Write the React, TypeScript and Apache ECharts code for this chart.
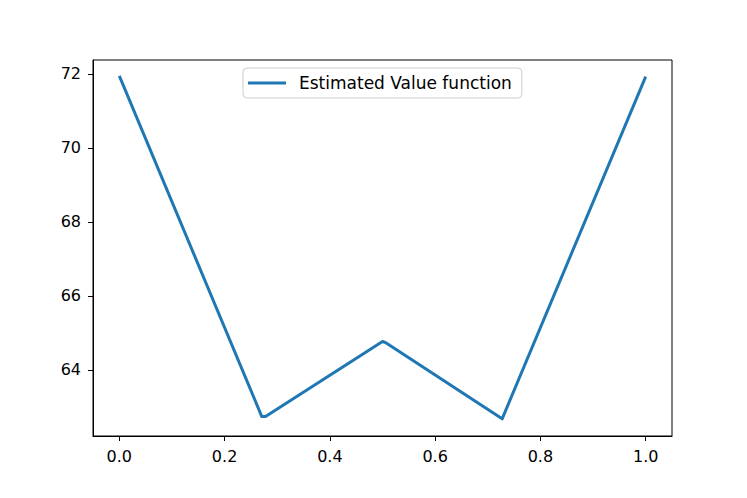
import React, { useEffect, useRef } from "react";
import * as echarts from "echarts";

const xValues = [0, 0.2707, 0.2778, 0.5, 0.507, 0.7273, 1.0];
const yValues = [71.95, 62.74, 62.74, 64.77, 64.73, 62.68, 71.93];
const xTicks = [0, 0.2, 0.4, 0.6, 0.8, 1.0];
const yTicks = [64, 66, 68, 70, 72];
const seriesName = "Estimated Value function";

const FONT = "DejaVu Sans";

export default function App() {
  const ref = useRef<HTMLDivElement>(null);
  useEffect(() => {
    if (!ref.current) return;
    const chart = echarts.init(ref.current, null, { renderer: "svg" });
    const data = xValues.map((x, i) => [x, yValues[i]]);
    chart.setOption({
      animation: false,
      backgroundColor: "#ffffff",
      grid: {
        left: 93,
        right: 75,
        top: 60,
        bottom: 62,
        show: true,
        borderColor: "#000",
        borderWidth: 1,
        backgroundColor: "transparent",
      },
      legend: {
        left: 243,
        top: 68,
        padding: [5, 10, 5, 5],
        borderColor: "#cccccc",
        borderWidth: 1,
        borderRadius: 4,
        backgroundColor: "#ffffff",
        itemWidth: 38,
        itemHeight: 3,
        icon: "rect",
        textStyle: {
          fontFamily: FONT,
          fontSize: 17,
          color: "#000",
          lineHeight: 20,
          padding: [0, 0, 0, 8],
        },
        data: [seriesName],
      },
      xAxis: {
        type: "value",
        min: -0.05,
        max: 1.05,
        splitLine: { show: false },
        axisLine: { show: true, onZero: false, lineStyle: { color: "#000", width: 1 } },
        axisTick: {
          show: true,
          length: 5,
          customValues: xTicks,
          lineStyle: { color: "#000", width: 1 },
        },
        axisLabel: {
          customValues: xTicks,
          fontFamily: FONT,
          fontSize: 16,
          color: "#000",
          margin: 12,
          formatter: (v: number) => v.toFixed(1),
        },
      },
      yAxis: {
        type: "value",
        min: 62.216,
        max: 72.378,
        splitLine: { show: false },
        axisLine: { show: true, onZero: false, lineStyle: { color: "#000", width: 1 } },
        axisTick: {
          show: true,
          length: 5,
          customValues: yTicks,
          lineStyle: { color: "#000", width: 1 },
        },
        axisLabel: {
          customValues: yTicks,
          fontFamily: FONT,
          fontSize: 16,
          color: "#000",
          margin: 12,
          formatter: (v: number) => String(Math.round(v)),
        },
      },
      series: [
        {
          name: seriesName,
          type: "line",
          data,
          showSymbol: false,
          symbol: "none",
          color: "#1f77b4",
          lineStyle: { color: "#1f77b4", width: 3, cap: "butt", join: "round" },
        },
      ],
    });
    return () => chart.dispose();
  }, []);
  return <div ref={ref} style={{ width: 747, height: 498, position: "absolute", left: 0, top: 0 }} />;
}
